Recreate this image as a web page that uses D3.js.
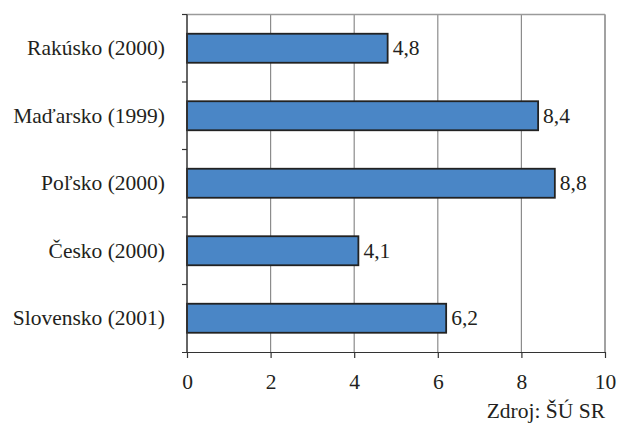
<!DOCTYPE html>
<html><head><meta charset="utf-8">
<script src="https://cdn.jsdelivr.net/npm/d3@7"></script>
</head><body style="margin:0">
<script>
const categories = ["Rakúsko (2000)", "Maďarsko (1999)", "Poľsko (2000)", "Česko (2000)", "Slovensko (2001)"];
const values = [4.8, 8.4, 8.8, 4.1, 6.2];
const valueLabels = ["4,8", "8,4", "8,8", "4,1", "6,2"];
const xTicks = [0, 2, 4, 6, 8, 10];
const source = "Zdroj: ŠÚ SR";

const W = 618, H = 425;
const m = {left: 187, right: 13, top: 14.5, bottom: 73};
const fs = 21.5;
const fontName = "Liberation Serif";
const ink = "#231f20";
const setFont = sel => sel.style("font-family", () => `"${fontName}"`).attr("font-size", fs).attr("fill", ink);

const svg = d3.select("body").append("svg").attr("width", W).attr("height", H)
  .style("font-family", () => `"${fontName}"`);
const x = d3.scaleLinear().domain([0, 10]).range([m.left, W - m.right]);
const y = d3.scaleBand().domain(categories).range([m.top, H - m.bottom]).paddingInner(0.57).paddingOuter(0.285);
const yb = d3.scaleBand().domain(categories).range([m.top, H - m.bottom]);

// gridlines
svg.append("g").selectAll("line").data(xTicks.slice(1)).join("line")
  .attr("x1", d => x(d)).attr("x2", d => x(d))
  .attr("y1", m.top).attr("y2", H - m.bottom)
  .attr("stroke", "#8c8c8c").attr("stroke-width", 1.2);
// top border
svg.append("line").attr("x1", m.left).attr("x2", x(10)).attr("y1", m.top).attr("y2", m.top)
  .attr("stroke", "#9a9a9a").attr("stroke-width", 1.5);

// bars
svg.append("g").selectAll("rect").data(values).join("rect")
  .attr("x", x(0)).attr("y", (d, i) => y(categories[i]))
  .attr("width", d => x(d) - x(0)).attr("height", y.bandwidth())
  .attr("fill", "#4a86c6").attr("stroke", "#222").attr("stroke-width", 1.8);

// x axis
const xAxis = svg.append("g").attr("transform", `translate(0,${H - m.bottom})`)
  .call(d3.axisBottom(x).tickValues(xTicks).tickSize(6).tickPadding(16).tickFormat(d3.format("d")));
xAxis.attr("font-family", null).attr("font-size", null);
xAxis.select(".domain").attr("d", `M${m.left - 5},0.5H${x(10)}`).attr("stroke", "#333").attr("stroke-width", 1.2);
xAxis.selectAll(".tick line").attr("stroke", "#333").attr("stroke-width", 1.2);
setFont(xAxis.selectAll("text"));

// y axis
const yAxis = svg.append("g").attr("transform", `translate(${m.left},0)`);
yAxis.append("line").attr("x1", 0).attr("x2", 0).attr("y1", m.top).attr("y2", H - m.bottom)
  .attr("stroke", "#333").attr("stroke-width", 1.5);
yAxis.selectAll("line.tk").data(categories).join("line").attr("class", "tk")
  .attr("x1", -5).attr("x2", 0).attr("y1", d => yb(d)).attr("y2", d => yb(d))
  .attr("stroke", "#333").attr("stroke-width", 1.2);
setFont(yAxis.selectAll("text").data(categories).join("text")
  .attr("x", -22).attr("y", d => yb(d) + yb.bandwidth() / 2).attr("dy", "0.33em")
  .attr("text-anchor", "end").text(d => d));

// right border
svg.append("line").attr("x1", x(10)).attr("x2", x(10)).attr("y1", m.top).attr("y2", H - m.bottom)
  .attr("stroke", "#9a9a9a").attr("stroke-width", 1.5);

// value labels
setFont(svg.append("g").selectAll("text").data(values).join("text")
  .attr("x", d => x(d) + 5).attr("y", (d, i) => y(categories[i]) + y.bandwidth() / 2).attr("dy", "0.33em")
  .text((d, i) => valueLabels[i]));

// source
setFont(svg.append("text").attr("x", x(10)).attr("y", 418).attr("text-anchor", "end").text(source));
</script>
</body></html>
